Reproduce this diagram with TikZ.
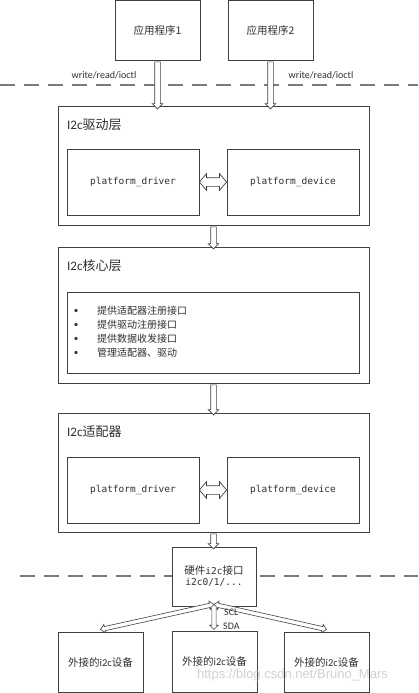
\documentclass[tikz,border=0pt]{standalone}
\usepackage{fontspec}
\setmainfont{Carlito}
\setmonofont{DejaVu Sans Mono}
\newfontfamily\cjk{Noto Sans CJK SC}
\newfontfamily\wmfont{Liberation Sans}
\usetikzlibrary{shapes.arrows,calc}
\definecolor{ln}{HTML}{404040}
\definecolor{tx}{HTML}{303030}
\definecolor{dl}{HTML}{7A7A7A}
\newcommand\hollowarrow[3]{%
  \path let \p1=#2, \p2=#3, \n1={veclen(\x2-\x1,\y2-\y1)}, \n2={atan2(\y2-\y1,\x2-\x1)} in
    node[#1, minimum height=\n1, rotate=\n2] at ($(\p1)!0.5!(\p2)$) {};}
\begin{document}
\begin{tikzpicture}[x=1pt,y=-1pt,
  box/.style={draw=ln, line width=0.9pt, fill=white, inner sep=0pt, text=tx},
  zh/.style={font=\cjk\fontsize{10.5pt}{13pt}\selectfont, text=tx},
  ttl/.style={font=\fontsize{13pt}{15pt}\selectfont, text=tx, anchor=west, inner sep=0pt},
  mono/.style={font=\ttfamily\fontsize{9.5pt}{11pt}\selectfont},
  lat/.style={font=\fontsize{10pt}{12pt}\selectfont, text=tx, inner sep=0pt},
  dashline/.style={draw=dl, line width=1.1pt, dash pattern=on 15pt off 9pt},
  sarr/.style={single arrow, draw=ln, fill=white, line width=0.7pt, inner xsep=0pt, inner ysep=2.5pt,
    single arrow head extend=2.5pt, single arrow tip angle=90, outer sep=0pt, minimum width=0pt},
  darr/.style={double arrow, draw=ln, fill=white, line width=0.7pt, inner xsep=0pt, inner ysep=4pt,
    double arrow head extend=4pt, double arrow tip angle=100, outer sep=0pt, minimum width=0pt},
  tarr/.style={double arrow, draw=ln, fill=white, line width=0.6pt, inner xsep=0pt, inner ysep=1.8pt,
    double arrow head extend=2.2pt, double arrow tip angle=90, outer sep=0pt, minimum width=0pt},
]
\useasboundingbox (0,0) rectangle (418,693);

% dashed separators
\coordinate (d1a) at (0,85);
\coordinate (d1b) at (418,85);
\coordinate (d2a) at (20,576);
\coordinate (d2b) at (418,576);
\draw[dashline] (d1a) -- (d1b);
\draw[dashline] (d2a) -- (d2b);

% applications
\node[box, zh, minimum width=85pt, minimum height=59.5pt] (app1) at (157.5,30.25) {应用程序1};
\node[box, zh, minimum width=85pt, minimum height=59.5pt] (app2) at (270.5,30.25) {应用程序2};
\node[lat] (w1) at (104,75) {write/read/ioctl};
\node[lat] (w2) at (321,75) {write/read/ioctl};

% layer 1
\node[box, minimum width=311pt, minimum height=119pt] (L1) at (213.5,165.5) {};
\node[ttl] (t1) at (67,125) {I2c{\cjk 驱动层}};
\node[box, mono, minimum width=132pt, minimum height=66pt] (pd1) at (133,182) {platform\_driver};
\node[box, mono, minimum width=132pt, minimum height=66pt] (pv1) at (293,182) {platform\_device};

% layer 2
\node[box, minimum width=311pt, minimum height=136pt] (L2) at (213.5,315) {};
\node[ttl] (t2) at (67,266) {I2c{\cjk 核心层}};
\node[box, minimum width=292pt, minimum height=81pt] (lst) at (213,332.5) {};
\foreach \yy/\txt [count=\i] in {311/提供适配器注册接口,325/提供驱动注册接口,339/提供数据收发接口,353/管理适配器、驱动}{
  \node[lat, font=\fontsize{9pt}{10pt}\selectfont] (b\i) at (76,\yy) {•};
  \node[zh, anchor=west, inner sep=0pt, font=\cjk\fontsize{10pt}{12pt}\selectfont] (li\i) at (97,\yy) {\txt};
}

% layer 3
\node[box, minimum width=311pt, minimum height=119pt] (L3) at (213.5,472.5) {};
\node[ttl] (t3) at (67,432) {I2c{\cjk 适配器}};
\node[box, mono, minimum width=132pt, minimum height=66pt] (pd2) at (133,490) {platform\_driver};
\node[box, mono, minimum width=132pt, minimum height=66pt] (pv2) at (293,490) {platform\_device};

% hardware
\node[box, minimum width=84pt, minimum height=59pt, align=center] (hw) at (214,576.5)
  {{\cjk\fontsize{10.5pt}{13pt}\selectfont 硬件}{\ttfamily\fontsize{9.5pt}{11pt}\selectfont i2c}{\cjk\fontsize{10.5pt}{13pt}\selectfont 接口}\\[-1pt]
   {\ttfamily\fontsize{9.5pt}{11pt}\selectfont i2c0/1/...}};

% devices
\node[box, zh, minimum width=85pt, minimum height=60pt] (dv1) at (100.5,662) {外接的{\fontspec{Carlito}i2c}设备};
\node[box, zh, minimum width=85pt, minimum height=61pt] (dv2) at (214.5,661.5) {外接的{\fontspec{Carlito}i2c}设备};
\node[box, zh, minimum width=85pt, minimum height=60pt] (dv3) at (326.5,662) {外接的{\fontspec{Carlito}i2c}设备};

% arrows
\hollowarrow{sarr}{(app1.south)}{($(app1.south |- L1.north)+(0,2)$)}
\hollowarrow{sarr}{(app2.south)}{($(app2.south |- L1.north)+(0,2)$)}
\hollowarrow{sarr}{(L1.south)}{($(L1.north |- L2.north)+(0,1)$)}
\hollowarrow{sarr}{(L2.south)}{($(L2.north |- L3.north)+(0,1)$)}
\hollowarrow{sarr}{(L3.south)}{($(L3.south |- hw.north)+(0,1)$)}
\hollowarrow{darr}{(pd1.east)}{(pv1.west)}
\hollowarrow{darr}{(pd2.east)}{(pv2.west)}
\hollowarrow{tarr}{($(hw.south)+(0,-2)$)}{($(dv1.north)+(0,-2)$)}
\hollowarrow{tarr}{($(hw.south)+(0,-2)$)}{($(dv3.north)+(0,-2)$)}
\hollowarrow{tarr}{($(hw.south)+(0,-2)$)}{($(hw.south |- dv2.north)+(0,-1)$)}

\node[lat, anchor=west] (scl) at (224,612) {SCL};
\node[lat, anchor=west] (sda) at (223,626) {SDA};

% watermark
\node[font=\wmfont\fontsize{13pt}{15pt}\selectfont, text=black!18, inner sep=0pt] (wm) at (292.5,675) {https://blog.csdn.net/Bruno\_Mars};
\end{tikzpicture}
\end{document}
